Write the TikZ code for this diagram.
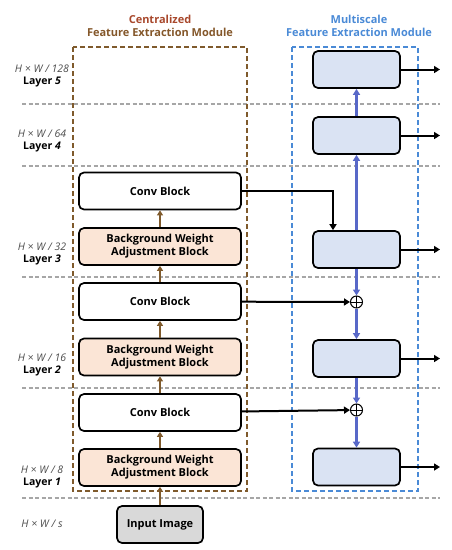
\documentclass[tikz,border=0pt]{standalone}
\usepackage{fontspec}
\setmainfont{Open Sans}
\usepackage{xcolor}
\usepackage{tikz}
\usetikzlibrary{arrows.meta,positioning}
\definecolor{ctitle}{HTML}{A8482C}
\definecolor{ctitleb}{HTML}{84572A}
\definecolor{cbrown}{HTML}{7F5A2C}
\definecolor{cpeach}{HTML}{FBE5D6}
\definecolor{cmsfill}{HTML}{DAE3F3}
\definecolor{cblue}{HTML}{4A8AD6}
\definecolor{cpath}{HTML}{5868C8}

\begin{document}
\begin{tikzpicture}[x=1pt, y=-1pt,
      blk/.style={draw=black, line width=1.7pt, rounded corners=5pt, minimum width=162pt, minimum height=37pt, inner sep=0pt, align=center, font=\bfseries\fontsize{11}{13}\selectfont},
      cb/.style={blk, fill=white},
      bw/.style={blk, fill=cpeach},
      ms/.style={draw=black, line width=1.7pt, rounded corners=5pt, fill=cmsfill, minimum width=87pt, minimum height=37pt, inner sep=0pt},
      addn/.style={circle, draw=black, line width=1pt, fill=white, minimum size=12pt, inner sep=0pt,
        path picture={\draw[line width=1pt] (path picture bounding box.north) -- (path picture bounding box.south)
          (path picture bounding box.west) -- (path picture bounding box.east);}},
      fwd/.style={draw=cbrown, line width=2.2pt, -{Triangle[length=5pt,width=6pt]}},
      pth/.style={draw=cpath, line width=2.4pt, -{Triangle[length=6pt,width=7pt]}},
      sk/.style={draw=black, line width=2pt, -{Triangle[length=6pt,width=7pt]}},
      laysep/.style={draw=black!35, dash pattern=on 4pt off 2.5pt, line width=1.2pt},
      lab/.style={font=\itshape\fontsize{10.5}{11}\selectfont, text=black!70},
      lay/.style={font=\bfseries\fontsize{10.5}{11}\selectfont}]
    \useasboundingbox (0,0) rectangle (452,550);
    % layer separators
    \foreach \y in {104,166,277,388,498} { \draw[laysep] (22,\y) -- (440,\y); }
    % module frames
    \draw[draw=cbrown, line width=1.7pt, dash pattern=on 5pt off 3pt] (73,47) rectangle (247,491);
    \draw[draw=cblue, line width=1.7pt, dash pattern=on 5pt off 3pt] (292,47) rectangle (418,491);
    \node[font=\bfseries\fontsize{11}{13}\selectfont, text=ctitle, align=center] (ttlc) at (160,26)
      {Centralized\\\textcolor{ctitleb}{Feature Extraction Module}};
    \node[font=\bfseries\fontsize{11}{13}\selectfont, text=cblue, align=center] (ttlm) at (359,26)
      {Multiscale\\Feature Extraction Module};
    % layer labels
    \foreach \n/\y/\s/\k in {l5/69/128/5, l4/134/64/4, l3/247/32/3, l2/358/16/2, l1/470/8/1} {
      \node[lab] (\n a) at (42,\y) {H × W / \s};
      \node[lay] (\n b) at (42,\y+13) {Layer \textit{\k}};
    }
    \node[lab] (l0a) at (42,524) {H × W / s};
    % centralized column
    \foreach \n/\y/\s/\t in {conv3/191/cb/{Conv Block}, bwab3/246.5/bw/{Background Weight\\Adjustment Block},
        conv2/301.5/cb/{Conv Block}, bwab2/357/bw/{Background Weight\\Adjustment Block},
        conv1/412.5/cb/{Conv Block}, bwab1/467.5/bw/{Background Weight\\Adjustment Block}} {
      \node[\s] (\n) at (160,\y) {\t};
    }
    \node[blk, fill=black!15, minimum width=86pt] (img) at (160,524.5) {Input Image};
    \draw[fwd] (img) -- (bwab1);
    \draw[fwd] (bwab1) -- (conv1);
    \draw[fwd] (conv1) -- (bwab2);
    \draw[fwd] (bwab2) -- (conv2);
    \draw[fwd] (conv2) -- (bwab3);
    \draw[fwd] (bwab3) -- (conv3);
    % multiscale column
    \foreach \n/\y in {ms5/69.5, ms4/135.5, ms3/249.5, ms2/358.5, ms1/467} {
      \node[ms] (\n) at (356.5,\y) {};
      \coordinate (\n o) at (440,\y);
      \draw[sk] (\n) -- (\n o);
    }
    \node[addn] (add2) at (356.5,302) {};
    \node[addn] (add1) at (356.5,410) {};
    \draw[pth] (ms3) -- (ms4);
    \draw[pth] (ms4) -- (ms5);
    \draw[pth] (ms3) -- (add2);
    \draw[pth] (add2) -- (ms2);
    \draw[pth] (ms2) -- (add1);
    \draw[pth] (add1) -- (ms1);
    % lateral links
    \draw[sk] (conv3.east) -| ([xshift=-23.5pt]ms3.north);
    \draw[sk] (conv2) -- (add2);
    \draw[sk] (conv1) -- (add1);
  \end{tikzpicture}
\end{document}
